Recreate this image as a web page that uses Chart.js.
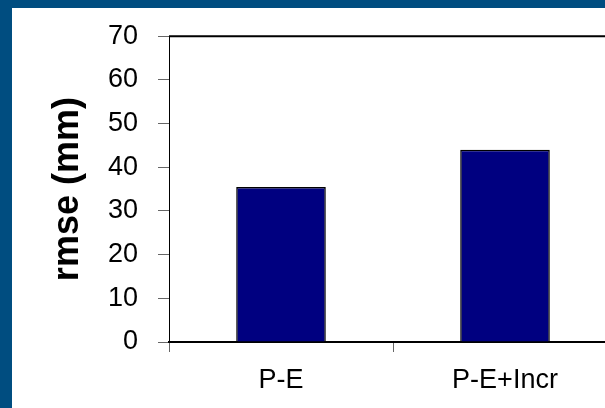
<!DOCTYPE html>
<html>
<head>
<meta charset="utf-8">
<script src="https://cdn.jsdelivr.net/npm/chart.js@4"></script>
<style>
  html, body { margin: 0; padding: 0; overflow: hidden; background: #004d80; }
  #wrap { width: 605px; height: 408px; overflow: hidden; }
</style>
</head>
<body>
<div id="wrap"><canvas id="chart" width="630" height="408"></canvas></div>
<script>
const categories = ["P-E", "P-E+Incr"]
const rmseValues = [35.5, 44.0]
const yTicks = [0, 10, 20, 30, 40, 50, 60, 70]

const FONT = "'Liberation Sans', Arial, sans-serif"

// slide frame + plot area border
const framePlugin = {
  id: "frame",
  beforeDraw(chart) {
    const { ctx, width, height } = chart
    ctx.save()
    ctx.fillStyle = "#004d80"
    ctx.fillRect(0, 0, width, height)
    ctx.fillStyle = "#ffffff"
    ctx.fillRect(12, 8, width - 12, height - 8)
    ctx.restore()
  },
  afterDatasetsDraw(chart) {
    const { ctx, chartArea: a } = chart
    ctx.save()
    ctx.strokeStyle = "#000"
    ctx.lineWidth = 2
    ctx.beginPath()
    ctx.moveTo(a.left, a.top)
    ctx.lineTo(a.right, a.top)
    ctx.lineTo(a.right, a.bottom)
    ctx.stroke()
    ctx.restore()
  },
}

new Chart(document.getElementById("chart"), {
  type: "bar",
  data: {
    labels: categories,
    datasets: [{
      data: rmseValues,
      backgroundColor: "#000080",
      borderColor: "#000000",
      borderWidth: 1.5,
      categoryPercentage: 1,
      barPercentage: 0.4,
    }],
  },
  options: {
    responsive: false,
    animation: false,
    layout: { padding: { top: 35, right: 13, bottom: 0, left: 0 } },
    plugins: { legend: { display: false }, tooltip: { enabled: false } },
    scales: {
      x: {
        afterFit: (s) => { s.height = 66 },
        grid: { offset: true, drawOnChartArea: false, tickLength: 10, color: "#666" },
        border: { color: "#000", width: 2 },
        ticks: { color: "#000", padding: 12, font: { family: FONT, size: 27 } },
      },
      y: {
        min: 0,
        max: 70,
        afterFit: (s) => { s.width = 169 },
        afterBuildTicks: (s) => { s.ticks = yTicks.map(v => ({ value: v })) },
        grid: { drawOnChartArea: false, tickLength: 11, color: "#666" },
        border: { color: "#000", width: 1 },
        ticks: { color: "#000", padding: 20, font: { family: FONT, size: 27 } },
        title: {
          display: true,
          text: "rmse (mm)",
          color: "#000",
          padding: { top: 46 },
          font: { family: FONT, size: 36, weight: "bold" },
        },
      },
    },
  },
  plugins: [framePlugin],
})
</script>
</body>
</html>
